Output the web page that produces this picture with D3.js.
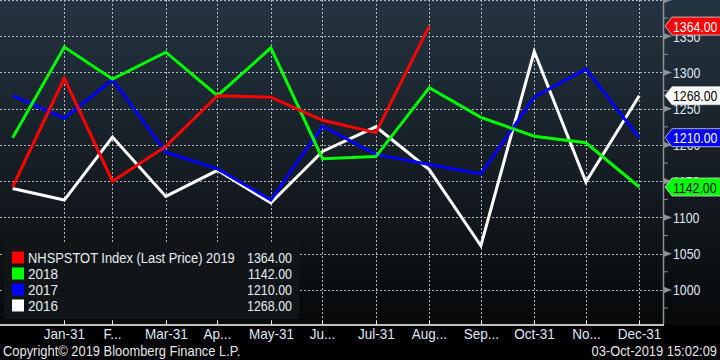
<!DOCTYPE html>
<html>
<head>
<meta charset="utf-8">
<script src="https://cdn.jsdelivr.net/npm/d3@7"></script>
<style>
  body { margin: 0; background: #000; }
  svg { display: block; }
  text { font-family: "Liberation Sans", Arial, sans-serif; }
</style>
</head>
<body>
<div id="chart"></div>
<script>
// tick labels along the bottom (month ends)
var monthLabels = ["Jan-31", "F...", "Mar-31", "Ap...", "May-31", "Ju...", "Jul-31", "Aug...", "Sep...", "Oct-31", "No...", "Dec-31"];
var monthEnds = [31, 28, 31, 30, 31, 30, 31, 31, 30, 31, 30, 31];

// values: first point is previous year's close, then month ends
var s2019 = [1142, 1292, 1150, 1198, 1268, 1266, 1234, 1217, 1364];
var s2018 = [1210, 1335, 1291, 1328, 1268, 1334, 1181, 1184, 1279, 1238, 1212, 1203, 1142];
var s2017 = [1268, 1237, 1290, 1190, 1167, 1124, 1226, 1187, 1173, 1160, 1266, 1305, 1210];
var s2016 = [1140, 1124, 1211, 1129, 1165, 1120, 1191, 1225, 1166, 1061, 1329, 1149, 1268];

var seriesNames = ["NHSPSTOT Index (Last Price) 2019", "2018", "2017", "2016"];
var seriesColors = ["#ff0000", "#00ff00", "#0000ff", "#ffffff"];
var lastValues = ["1364.00", "1142.00", "1210.00", "1268.00"];
var yTicks = [1000, 1050, 1100, 1150, 1200, 1250, 1300, 1350, 1400];

var width = 720, height = 360;
var plotRight = 663, plotBottom = 324;

// squeeze text to look like the narrow terminal font
function narrow(sel, f) {
  sel.each(function () {
    var w = this.getComputedTextLength();
    d3.select(this).attr("textLength", w * f).attr("lengthAdjust", "spacingAndGlyphs");
  });
}

// dates for x positions, in one dummy year
var dates = [new Date(Date.UTC(2019, 0, 1))];
monthEnds.forEach(function (d, i) { dates.push(new Date(Date.UTC(2019, i, d))); });

var xScale = d3.scaleUtc()
  .domain([new Date(Date.UTC(2018, 11, 24, 16)), new Date(Date.UTC(2020, 0, 13, 19))])
  .range([0, plotRight]);

var yScale = d3.scaleLinear()
  .domain([953, 1400])
  .range([plotBottom, 0]);

var svg = d3.select("#chart").append("svg")
  .attr("width", width)
  .attr("height", height);

var defs = svg.append("defs");
var grad = defs.append("linearGradient")
  .attr("id", "bg")
  .attr("x1", 0).attr("y1", 0).attr("x2", 0).attr("y2", 1);
grad.append("stop").attr("offset", "0%").attr("stop-color", "#253441");
grad.append("stop").attr("offset", "50%").attr("stop-color", "#161e25");
grad.append("stop").attr("offset", "100%").attr("stop-color", "#07090a");

svg.append("rect").attr("width", width).attr("height", height).attr("fill", "#000");
svg.append("rect").attr("width", width).attr("height", plotBottom + 1).attr("fill", "url(#bg)");

// grid
var grid = svg.append("g").attr("stroke", "#b4b8bc").attr("stroke-dasharray", "2,2").attr("stroke-width", 1);
yTicks.forEach(function (t) {
  grid.append("line")
    .attr("x1", 0).attr("x2", plotRight)
    .attr("y1", Math.round(yScale(t)) + 0.5).attr("y2", Math.round(yScale(t)) + 0.5);
});
dates.slice(1).forEach(function (d) {
  grid.append("line")
    .attr("x1", Math.round(xScale(d)) + 0.5).attr("x2", Math.round(xScale(d)) + 0.5)
    .attr("y1", 0).attr("y2", plotBottom);
});

// legend box (drawn under lines, over grid)
var legend = svg.append("g");
legend.append("rect")
  .attr("x", 4).attr("y", 242).attr("width", 295).attr("height", 77)
  .attr("rx", 3).attr("fill", "#111518");

// series lines
var allSeries = [s2016, s2017, s2018, s2019];
var allColors = [seriesColors[3], seriesColors[2], seriesColors[1], seriesColors[0]];
var line = d3.line()
  .x(function (d, i) { return xScale(dates[i]); })
  .y(function (d) { return yScale(d); });

svg.selectAll("path.series")
  .data(allSeries)
  .enter().append("path")
  .attr("class", "series")
  .attr("d", line)
  .attr("fill", "none")
  .attr("stroke", function (d, i) { return allColors[i]; })
  .attr("stroke-width", 3)
  .attr("stroke-linejoin", "miter");

// legend entries
seriesNames.forEach(function (n, i) {
  var cy = 257.5 + i * 16;
  legend.append("rect")
    .attr("x", 12).attr("y", cy - 6).attr("width", 12).attr("height", 12)
    .attr("fill", seriesColors[i]);
  legend.append("text")
    .attr("x", 28).attr("y", cy + 5.5)
    .attr("fill", "#e6edf4").attr("font-size", 15)
    .text(n)
    .call(narrow, i == 0 ? 0.86 : 0.9);
  legend.append("text")
    .attr("x", 292).attr("y", cy + 5.5)
    .attr("text-anchor", "end")
    .attr("fill", "#e6edf4").attr("font-size", 15)
    .text(lastValues[i])
    .call(narrow, 0.83);
});

// right axis
svg.append("line")
  .attr("x1", plotRight + 0.5).attr("x2", plotRight + 0.5)
  .attr("y1", 0).attr("y2", plotBottom)
  .attr("stroke", "#8c9196").attr("stroke-width", 1.5);

yTicks.forEach(function (t) {
  var y = yScale(t);
  svg.append("path")
    .attr("d", "M" + plotRight + "," + (y - 3.5) + "L" + (plotRight + 9) + "," + y + "L" + plotRight + "," + (y + 3.5) + "Z")
    .attr("fill", "#8c9196");
  var ym = yScale(t - 25);
  if (ym < plotBottom) {
    svg.append("line")
      .attr("x1", plotRight).attr("x2", plotRight + 5)
      .attr("y1", ym).attr("y2", ym)
      .attr("stroke", "#8c9196").attr("stroke-width", 1);
  }
  if (t < 1400) {
    svg.append("text")
      .attr("x", 673).attr("y", y + 5.5)
      .attr("fill", "#dfe8f2").attr("font-size", 15)
      .text(t)
      .call(narrow, 0.82);
  }
});

// last value tags
var tagValues = [1364, 1142, 1210, 1268];
var tagText = ["#ffffff", "#000000", "#ffffff", "#000000"];
tagValues.forEach(function (v, i) {
  var cy = yScale(v);
  svg.append("path")
    .attr("d", "M665," + cy + "L672," + (cy - 9) + "L721," + (cy - 9) + "L721," + (cy + 9) + "L672," + (cy + 9) + "Z")
    .attr("fill", seriesColors[i])
    .attr("stroke", "#d8d8d8").attr("stroke-width", 0.8);
  svg.append("text")
    .attr("x", 673).attr("y", cy + 5.5)
    .attr("fill", tagText[i]).attr("font-size", 15)
    .text(lastValues[i])
    .call(narrow, 0.82);
});

// bottom axis
svg.append("line")
  .attr("x1", 0).attr("x2", plotRight + 1)
  .attr("y1", plotBottom + 1).attr("y2", plotBottom + 1)
  .attr("stroke", "#ffffff").attr("stroke-width", 1.5);

dates.slice(1).forEach(function (d, i) {
  var x = Math.round(xScale(d)) + 0.5;
  svg.append("line")
    .attr("x1", x).attr("x2", x)
    .attr("y1", plotBottom - 3).attr("y2", plotBottom + 1)
    .attr("stroke", "#ffffff").attr("stroke-width", 1);
  svg.append("text")
    .attr("x", x).attr("y", 339)
    .attr("text-anchor", "middle")
    .attr("fill", "#dfe8f2").attr("font-size", 15)
    .text(monthLabels[i])
    .call(narrow, 0.9);
});

// footer
svg.append("text")
  .attr("x", 3).attr("y", 356)
  .attr("fill", "#e6e6e6").attr("font-size", 15)
  .text("Copyright\u00a9 2019 Bloomberg Finance L.P.")
  .call(narrow, 0.86);
svg.append("text")
  .attr("x", 717).attr("y", 356)
  .attr("text-anchor", "end")
  .attr("fill", "#e6e6e6").attr("font-size", 15)
  .text("03-Oct-2019 15:02:09")
  .call(narrow, 0.86);
</script>
</body>
</html>
